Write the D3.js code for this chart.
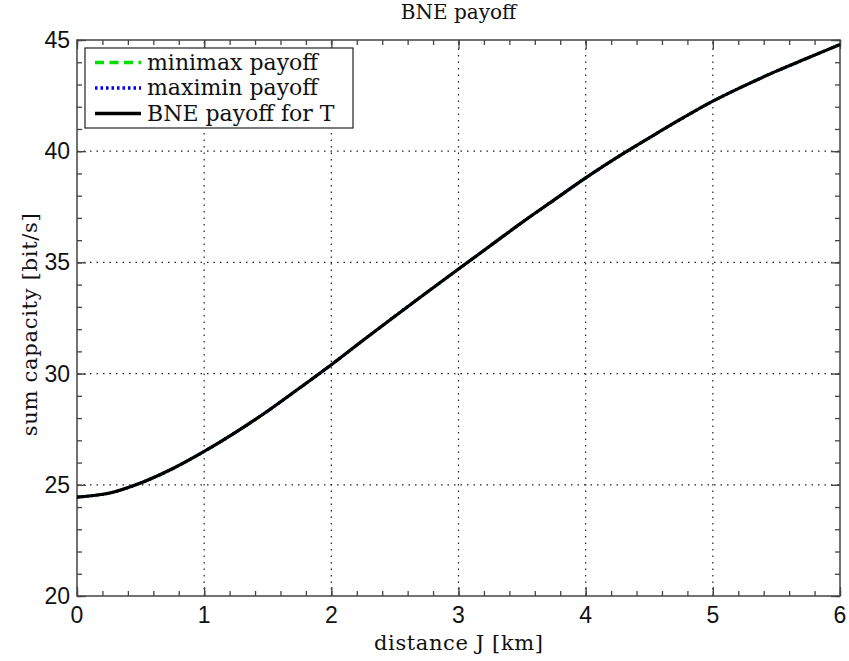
<!DOCTYPE html>
<html lang="en">
<head>
<meta charset="UTF-8">
<title>BNE payoff</title>
<script src="https://d3js.org/d3.v7.min.js"></script>
<style>
  body { margin: 0; background: #fff; }
  svg { display: block; }
</style>
</head>
<body>
<svg width="849" height="661"></svg>
<script>
// distances J in km
const distance = [0, 0.25, 0.5, 0.75, 1, 1.25, 1.5, 1.75, 2, 2.25, 2.5, 2.75, 3, 3.25, 3.5, 3.75, 4, 4.25, 4.5, 4.75, 5, 5.25, 5.5, 5.75, 6];
// sum capacity [bit/s]
const minimaxPayoff = [24.45, 24.62, 25.08, 25.72, 26.5, 27.37, 28.32, 29.35, 30.4, 31.5, 32.58, 33.65, 34.7, 35.75, 36.8, 37.8, 38.8, 39.73, 40.6, 41.45, 42.25, 42.95, 43.6, 44.2, 44.8];
const maximinPayoff = minimaxPayoff.slice();
const bnePayoff = minimaxPayoff.slice();
const xTicks = [0, 1, 2, 3, 4, 5, 6];
const yTicks = [20, 25, 30, 35, 40, 45];
const legendLabels = ["minimax payoff", "maximin payoff", "BNE payoff for T"];

const svg = d3.select("svg");
const margin = { left: 77, right: 9, top: 40, bottom: 65 };
const W = 849, H = 661;

const x = d3.scaleLinear().domain([0, 6]).range([margin.left, W - margin.right]);
const y = d3.scaleLinear().domain([20, 45]).range([H - margin.bottom, margin.top]);

const axisColor = "#444";

// grid
const grid = svg.append("g");
grid.selectAll(".gx").data(xTicks.slice(1, -1)).enter().append("line")
  .attr("x1", d => x(d)).attr("x2", d => x(d))
  .attr("y1", y(20)).attr("y2", y(45))
  .attr("stroke", "#222").attr("stroke-width", 1.2).attr("stroke-dasharray", "1.5,5");
grid.selectAll(".gy").data(yTicks.slice(1, -1)).enter().append("line")
  .attr("x1", x(0)).attr("x2", x(6))
  .attr("y1", d => y(d)).attr("y2", d => y(d))
  .attr("stroke", "#222").attr("stroke-width", 1.2).attr("stroke-dasharray", "1.5,5");

// axes, ticks inward on all four sides
const minorX = d3.range(0, 6.0001, 0.2);
const minorY = d3.range(20, 45.0001, 1);

function ticksOn(axisGen, transform) {
  const g = svg.append("g").attr("transform", transform).call(axisGen);
  g.select(".domain").remove();
  g.selectAll("line").attr("stroke", axisColor).attr("stroke-width", 1.3);
  return g;
}
ticksOn(d3.axisBottom(x).tickValues(minorX).tickSize(-5).tickFormat(""), `translate(0,${y(20)})`);
ticksOn(d3.axisTop(x).tickValues(minorX).tickSize(-5).tickFormat(""), `translate(0,${y(45)})`);
ticksOn(d3.axisLeft(y).tickValues(minorY).tickSize(-5).tickFormat(""), `translate(${x(0)},0)`);
ticksOn(d3.axisRight(y).tickValues(minorY).tickSize(-5).tickFormat(""), `translate(${x(6)},0)`);
ticksOn(d3.axisBottom(x).tickValues(xTicks).tickSize(-9).tickFormat(""), `translate(0,${y(20)})`);
ticksOn(d3.axisTop(x).tickValues(xTicks).tickSize(-9).tickFormat(""), `translate(0,${y(45)})`);
ticksOn(d3.axisLeft(y).tickValues(yTicks).tickSize(-9).tickFormat(""), `translate(${x(0)},0)`);
ticksOn(d3.axisRight(y).tickValues(yTicks).tickSize(-9).tickFormat(""), `translate(${x(6)},0)`);

svg.append("rect")
  .attr("x", x(0)).attr("y", y(45))
  .attr("width", x(6) - x(0)).attr("height", y(20) - y(45))
  .attr("fill", "none").attr("stroke", axisColor).attr("stroke-width", 1.5);

// tick labels
const tickFont = "'Liberation Sans', Arial, sans-serif";
svg.append("g").selectAll("text").data(xTicks).enter().append("text")
  .attr("x", d => x(d)).attr("y", y(20) + 27)
  .attr("text-anchor", "middle")
  .attr("font-family", tickFont).attr("font-size", 23).attr("fill", "#111")
  .text(d => d);
svg.append("g").selectAll("text").data(yTicks).enter().append("text")
  .attr("x", x(0) - 7).attr("y", d => y(d) + 8)
  .attr("text-anchor", "end")
  .attr("font-family", tickFont).attr("font-size", 23).attr("fill", "#111")
  .text(d => d);

// titles
const serif = "'DejaVu Serif', serif";
svg.append("text").attr("x", x(3)).attr("y", 19).attr("text-anchor", "middle")
  .attr("font-family", serif).attr("font-size", 20).attr("fill", "#111").text("BNE payoff");
svg.append("text").attr("x", x(3)).attr("y", 650).attr("text-anchor", "middle")
  .attr("font-family", serif).attr("font-size", 21).attr("fill", "#111")
  .attr("textLength", 169).attr("lengthAdjust", "spacing")
  .text("distance J [km]");
svg.append("text").attr("transform", `translate(37,${y(32.2)}) rotate(-90)`)
  .attr("text-anchor", "middle")
  .attr("font-family", serif).attr("font-size", 21).attr("fill", "#111")
  .attr("textLength", 223).attr("lengthAdjust", "spacing")
  .text("sum capacity [bit/s]");

// lines
const line = d3.line().x((d, i) => x(distance[i])).y(d => y(d)).curve(d3.curveCatmullRom);
const series = [
  { values: minimaxPayoff, color: "#00e000", width: 3, dash: "8,6" },
  { values: maximinPayoff, color: "#0000ee", width: 3, dash: "2,3" },
  { values: bnePayoff, color: "#000", width: 3.2, dash: null }
];
svg.append("g").selectAll("path").data(series).enter().append("path")
  .attr("d", d => line(d.values))
  .attr("fill", "none")
  .attr("stroke", d => d.color)
  .attr("stroke-width", d => d.width)
  .attr("stroke-dasharray", d => d.dash);

// legend
const lg = svg.append("g");
lg.append("rect").attr("x", 85).attr("y", 48).attr("width", 268).attr("height", 80)
  .attr("fill", "#fff").attr("stroke", "#222").attr("stroke-width", 1.2);
const legendRows = lg.selectAll("g.row").data(series).enter().append("g")
  .attr("transform", (d, i) => `translate(0,${62.5 + i * 25.5})`);
legendRows.append("line")
  .attr("x1", 95).attr("x2", 141).attr("y1", 0).attr("y2", 0)
  .attr("stroke", d => d.color).attr("stroke-width", 3.5)
  .attr("stroke-dasharray", (d, i) => i === 0 ? "9,5.5" : (i === 1 ? "2.5,3" : null));
legendRows.append("text")
  .attr("x", 147).attr("y", 7)
  .attr("font-family", serif).attr("font-size", 22).attr("fill", "#111")
  .text((d, i) => legendLabels[i]);
</script>
</body>
</html>
